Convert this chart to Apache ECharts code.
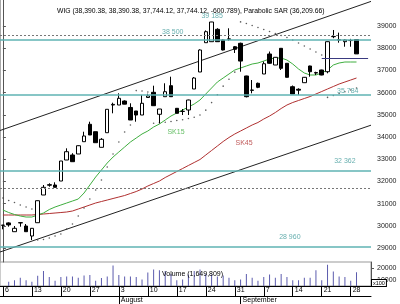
<!DOCTYPE html>
<html><head><meta charset="utf-8">
<script src="https://cdn.jsdelivr.net/npm/echarts@6/dist/echarts.min.js"></script>
<style>html,body{margin:0;padding:0;background:#fff}#c{width:400px;height:304px}</style>
</head><body><div id="c"></div>
<script>
// ---------- data ----------
const dates = [
 '2009-07-06','2009-07-07','2009-07-08','2009-07-09','2009-07-10',
 '2009-07-13','2009-07-14','2009-07-15','2009-07-16','2009-07-17',
 '2009-07-20','2009-07-21','2009-07-22','2009-07-23','2009-07-24',
 '2009-07-27','2009-07-28','2009-07-29','2009-07-30','2009-07-31',
 '2009-08-03','2009-08-04','2009-08-05','2009-08-06','2009-08-07',
 '2009-08-10','2009-08-11','2009-08-12','2009-08-13','2009-08-14',
 '2009-08-17','2009-08-18','2009-08-19','2009-08-20','2009-08-21',
 '2009-08-24','2009-08-25','2009-08-26','2009-08-27','2009-08-28',
 '2009-08-31','2009-09-01','2009-09-02','2009-09-03','2009-09-04',
 '2009-09-07','2009-09-08','2009-09-09','2009-09-10','2009-09-11',
 '2009-09-14','2009-09-15','2009-09-16','2009-09-17','2009-09-18',
 '2009-09-21','2009-09-22','2009-09-23','2009-09-24','2009-09-25',
 '2009-09-28','2009-09-29','2009-09-30','2009-10-01'
];
const opens = [30030,30130,29734,30140,29990,29540,30139,31387,31850,31837,
 32017,32963,33189,33234,33788,34572,34238,33535,34193,35441,
 35441,35621,35330,35171,34990,35780,36013,35022,35815,36311,
 35292,35150,35216,36162,36928,38248,38293,38851,38369,38401,
 38067,38221,36748,36100,36419,36838,37739,37243,37995,37320,
 36265,36150,36446,37198,36900,37018,36941,38518,38369,38293,
 38345,38390.38];
const closes = [30020,30040,29887,30130,29734,29887,31130,31733,31830,31733,
 32918,33337,32887,33607,34045,34090,33743,33896,35247,35470,
 35743,35480,34765,34990,35518,35850,35410,35261,36040,35815,
 35067,35160,35666,36657,37919,38743,39180,38293,37919,38420,
 37950,37420,35815,36117,36238,37300,37320,37590,37094,36689,
 35937,36110,36689,36941,36880,36793,38293,38530,38380,38369,
 38344.91,37744.12];
const lows = [29842,29960,29734,29959,29734,29359,30139,31387,31761,31733,
 32017,32963,32887,33234,33788,34090,33743,33535,34193,35067,
 35441,35473,34765,34689,34990,35770,35410,34617,35815,35815,
 35067,34990,34990,36162,36928,38248,38293,38293,37900,38338,
 37784,36941,35784,35968,36200,36838,37300,37243,37018,36680,
 35937,35892,36446,36716,36793,36780,36869,38450,38248,38067,
 38067,37744.12];
const highs = [30040,30157,29990,30157,30080,29900,31140,31837,31914,31959,
 32918,33490,33270,33620,34238,34689,34238,33950,35250,35545,
 35968,35650,35518,35171,35892,35950,36311,35261,36419,36716,
 35300,35261,35680,36700,37950,38800,39185,38900,38400,38896,
 38100,38250,36760,36567,36450,37400,37850,37600,38000,37330,
 36320,36193,36700,37210,36941,37030,38300,38820,38700,38400,
 38420,38390.38];
const volumes = [null,859000,987000,1192300,987000,859000,1346200,1756400,1243600,935900,
 1243600,1294900,1294900,1192300,1371800,1423100,935900,1166700,1294900,2218000,
 1423100,1294900,1294900,1243600,1038500,1628200,1884600,1807700,1756400,1500000,
 987000,1038500,1448700,1756400,1884600,1500000,1448700,1294900,1371800,1192300,
 987000,1038500,1500000,1192300,935900,1243600,1448700,1192300,1500000,1243600,
 987000,987000,1192300,1192300,1807700,987000,2269200,1705100,1294900,1243600,
 935900,1649809];
const sk15 = [30711,30598,30508,30440,30395,30395,30486,30576,30733,30846,
 30936,31026,31116,31206,31477,31837,32197,32513,32828,33098,
 33324,33549,33774,33954,34135,34270,34450,34585,34765,34945,
 35081,35216,35351,35486,35666,35937,36207,36477,36657,36838,
 37018,37108,37198,37288,37333,37423,37513,37558,37558,37468,
 37288,37063,36883,36793,36793,36883,37018,37243,37333,37378,
 37378,37378];
const sk45 = [30486,30486,30486,30486,30486,30486,30508,30531,30553,30576,
 30598,30621,30666,30756,30846,30936,31026,31094,31161,31229,
 31296,31364,31454,31544,31657,31792,31905,32017,32175,32310,
 32445,32580,32716,32851,32986,33189,33391,33594,33797,33977,
 34135,34270,34405,34540,34653,34810,34945,35103,35283,35441,
 35554,35644,35734,35824,35937,36049,36162,36274,36387,36477,
 36567,36657];
const sar = [31251,31139,31049,30936,30846,30756,29359,29380,29450,29540,
 29630,29855,30080,30440,30801,31206,31612,32063,32648,33234,
 33774,34225,34540,36090,36070,36030,34620,34640,34665,34700,
 34740,34780,34830,34890,34990,35210,35550,35900,36290,36600,
 36920,39185,39113,39023,38932,38842,38752,38662,38572,38482,
 38369,38234,38099,37964,37829,37694,35784,35870,35960,36040,
 36120,36209.66];
const priceTicks = [29000,30000,31000,32000,33000,34000,35000,36000,37000,38000,39000];
const volumeTicks = [1000000,2000000];
// horizontal support / resistance lines as drawn and their captions
const levels = [38401,35891,32468,29057];
const levelLabels = ['38 500','35 784','32 362','28 960'];
const dashedLevels = [38563,31700];
const highLabel = '39 185';
const upperTrend = [34292,40108];
const lowerTrend = [28819,34532];
const cursorLevel = 37558;
const weekStarts = ['2009-07-06','2009-07-13','2009-07-20','2009-07-27','2009-08-03','2009-08-10',
 '2009-08-17','2009-08-24','2009-08-31','2009-09-07','2009-09-14','2009-09-21','2009-09-28'];
const monthStarts = {'2009-08-03':'August','2009-09-01':'September'};
const titleText = 'WIG (38,390.38, 38,390.38, 37,744.12, 37,744.12, -600.789), Parabolic SAR (36,209.66)';

// ---------- chart ----------
const FONT = '"Liberation Sans",Arial,sans-serif';
const FS = 7;
const fmtThousands = v => v.toLocaleString('en-US');
const candles = opens.map((o,i)=>[o,closes[i],lows[i],highs[i]]);
const TEAL = '#5fb3b3', TEALTXT = '#3f9a9a';
const lastVol = volumes[volumes.length-1];

const chart = echarts.init(document.getElementById('c'), null, {renderer:'canvas'});
const option = {
  animation:false,
  backgroundColor:'#fff',
  textStyle:{fontFamily:FONT},
  title:[
    {text:titleText,left:52,top:3,textStyle:{fontSize:6.8,fontWeight:'normal',color:'#000',fontFamily:FONT}},
    {text:'Volume ('+fmtThousands(lastVol)+')',left:157,top:266,textStyle:{fontSize:FS,fontWeight:'normal',color:'#000',fontFamily:FONT}}
  ],
  grid:[
    {left:0,right:29,top:0,height:262},
    {left:0,right:29,top:262,height:26,show:true,borderColor:'#999',borderWidth:1}
  ],
  xAxis:[
    {type:'category',gridIndex:0,data:dates,boundaryGap:true,show:false},
    {type:'value',gridIndex:0,min:-0.5,max:dates.length-0.5,show:false},
    {type:'category',gridIndex:1,data:dates,boundaryGap:true,position:'bottom',
     axisLine:{show:true,lineStyle:{color:'#000',width:1}},
     axisTick:{show:true,alignWithLabel:true,length:10,interval:(i,v)=>weekStarts.includes(v),lineStyle:{color:'#000'}},
     axisLabel:{show:true,interval:(i,v)=>weekStarts.includes(v),formatter:v=>String(+v.slice(8)),
       align:'left',padding:[0,0,0,2],margin:1,fontSize:FS,color:'#000',fontFamily:FONT},
     splitLine:{show:false}},
    {type:'category',gridIndex:1,data:dates,boundaryGap:true,position:'bottom',offset:10,
     axisLine:{show:true,lineStyle:{color:'#000',width:1}},
     axisTick:{show:true,alignWithLabel:true,length:8,interval:(i,v)=>v in monthStarts,lineStyle:{color:'#000'}},
     axisLabel:{show:true,interval:(i,v)=>v in monthStarts,formatter:v=>monthStarts[v]||'',
       align:'left',padding:[0,0,0,2],margin:1,fontSize:FS,color:'#000',fontFamily:FONT},
     splitLine:{show:false}}
  ],
  yAxis:[
    {type:'value',gridIndex:0,position:'right',min:28369,max:40171,scale:true,
     axisLine:{show:true,lineStyle:{color:'#555'}},
     axisTick:{show:true,length:3,customValues:priceTicks,lineStyle:{color:'#555'}},
     axisLabel:{show:true,customValues:priceTicks,formatter:v=>String(v),margin:6,fontSize:FS,color:'#222',fontFamily:FONT},
     splitLine:{show:false}},
    {type:'value',gridIndex:1,position:'right',min:500000,max:2500000,
     axisLine:{show:true,lineStyle:{color:'#555'}},
     axisTick:{show:true,length:3,customValues:volumeTicks,lineStyle:{color:'#555'}},
     axisLabel:{show:true,customValues:volumeTicks,formatter:v=>String(v/100),margin:6,fontSize:FS,color:'#222',fontFamily:FONT},
     splitLine:{show:false}},
    {type:'value',gridIndex:0,position:'left',min:28369,max:40171,
     axisLine:{show:true,lineStyle:{color:'#aaa'}},axisTick:{show:false},axisLabel:{show:false},splitLine:{show:false}}
  ],
  series:[
    {type:'line',xAxisIndex:1,yAxisIndex:0,data:[[-0.5,upperTrend[0]],[dates.length-0.5,upperTrend[1]]],
     symbol:'none',lineStyle:{color:'#222',width:1},silent:true,z:1},
    {type:'line',xAxisIndex:1,yAxisIndex:0,data:[[-0.5,lowerTrend[0]],[dates.length-0.5,lowerTrend[1]]],
     symbol:'none',lineStyle:{color:'#222',width:1},silent:true,z:1},
    {type:'line',xAxisIndex:0,yAxisIndex:0,data:sk45,symbol:'none',lineStyle:{color:'#b03030',width:1},z:2},
    {type:'line',xAxisIndex:0,yAxisIndex:0,data:sk15,symbol:'none',lineStyle:{color:'#3fae3f',width:1},z:2},
    {type:'scatter',xAxisIndex:0,yAxisIndex:0,data:sar,symbol:'circle',symbolSize:1.6,itemStyle:{color:'#333'},z:2},
    {type:'candlestick',xAxisIndex:0,yAxisIndex:0,data:candles,barWidth:4,z:3,
     itemStyle:{color:'#fff',color0:'#000',borderColor:'#000',borderColor0:'#000',borderWidth:1},
     markLine:{silent:true,symbol:'none',label:{show:false},
       data:[
         ...levels.map(v=>({yAxis:v,lineStyle:{color:TEAL,width:1.5,type:'solid'}})),
         ...dashedLevels.map(v=>({yAxis:v,lineStyle:{color:'#777',width:1,type:[2,2]}})),
         [{coord:[55,cursorLevel],lineStyle:{color:'#3a3a80',width:1,type:'solid'}},{coord:[63,cursorLevel]}]
       ]}},
    {type:'scatter',xAxisIndex:1,yAxisIndex:0,symbolSize:0,silent:true,z:4,
     label:{show:true,position:'top',fontSize:FS,color:TEALTXT,fontFamily:FONT,formatter:p=>p.name},
     data:[
       {name:levelLabels[0],value:[29.3,dashedLevels[0]],label:{distance:0}},
       {name:levelLabels[1],value:[59.5,levels[1]],label:{distance:0.5}},
       {name:levelLabels[2],value:[59.0,levels[2]],label:{distance:6.5}},
       {name:levelLabels[3],value:[49.5,levels[3]],label:{distance:6}},
       {name:highLabel,value:[36.1,39185],label:{distance:2.5}}
     ]},
    {type:'scatter',xAxisIndex:1,yAxisIndex:0,symbolSize:0,silent:true,z:4,
     label:{show:true,position:'inside',fontSize:FS,fontFamily:FONT,formatter:p=>p.name},
     data:[
       {name:'SK15',value:[29.86,34225],label:{color:'#3fae3f'}},
       {name:'SK45',value:[41.6,33729],label:{color:'#b03030'}}
     ]},
    {type:'bar',xAxisIndex:2,yAxisIndex:1,data:volumes,barWidth:1,itemStyle:{color:'#5c5cae'},z:2}
  ],
  graphic:[
    {type:'text',left:371,top:279,z:100,style:{text:'x100',fontSize:5.5,fontFamily:FONT,fill:'#000',
      backgroundColor:'#fff',borderColor:'#000',borderWidth:1,padding:[0,1,0,1]}}
  ]
};
chart.setOption(option);
</script></body></html>
